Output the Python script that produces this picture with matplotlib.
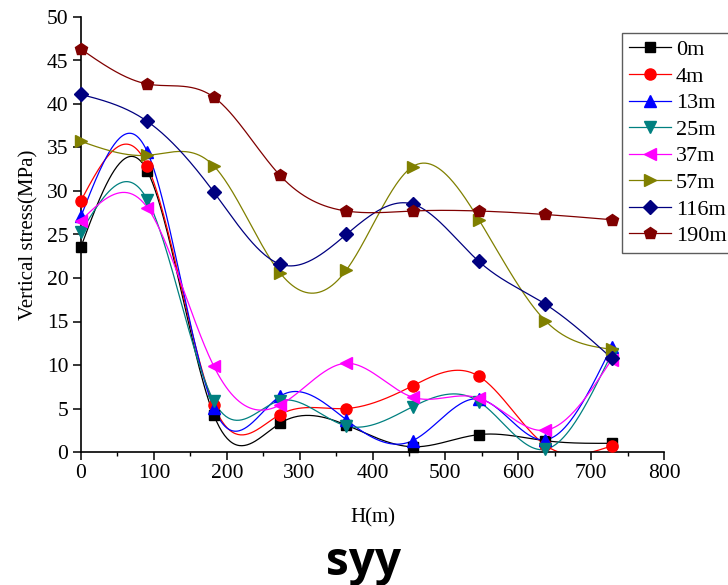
import numpy as np
import matplotlib
matplotlib.use("Agg")
import matplotlib.pyplot as plt
from matplotlib.lines import Line2D

# ---- data ----
H = [0, 91, 182, 273, 364, 455, 546, 637, 728]
labels = ["0m", "4m", "13m", "25m", "37m", "57m", "116m", "190m"]
s_0m   = [23.6, 32.3, 4.3, 3.3, 3.1, 0.6, 2.0, 1.3, 1.0]
s_4m   = [28.9, 32.9, 5.4, 4.3, 5.0, 7.6, 8.7, 0.8, 0.7]
s_13m  = [27.1, 34.5, 5.1, 6.4, 3.7, 1.3, 6.1, 1.4, 12.1]
s_25m  = [25.3, 29.0, 5.9, 5.9, 3.0, 5.2, 5.8, 0.3, 11.3]
s_37m  = [26.6, 28.1, 9.9, 5.4, 10.2, 6.3, 6.2, 2.5, 10.6]
s_57m  = [35.7, 34.1, 32.9, 20.6, 20.9, 32.8, 26.7, 15.1, 11.8]
s_116m = [41.1, 38.0, 29.9, 21.6, 25.0, 28.5, 21.9, 17.0, 10.8]
s_190m = [46.3, 42.3, 40.8, 31.8, 27.7, 27.7, 27.7, 27.3, 26.7]
series = [s_0m, s_4m, s_13m, s_25m, s_37m, s_57m, s_116m, s_190m]

colors = ["#000000", "#FF0000", "#0000FF", "#008080", "#FF00FF", "#808000", "#000080", "#800000"]
markers = ["s", "o", "^", "v", "<", ">", "D", "p"]
msizes = [7, 8, 8.5, 8.5, 8.5, 8.5, 7, 9]


def natural_spline(x, y, n=400):
    x = np.asarray(x, float)
    y = np.asarray(y, float)
    k = len(x)
    h = np.diff(x)
    A = np.zeros((k, k))
    b = np.zeros(k)
    A[0, 0] = 1
    A[-1, -1] = 1
    for i in range(1, k - 1):
        A[i, i - 1] = h[i - 1]
        A[i, i] = 2 * (h[i - 1] + h[i])
        A[i, i + 1] = h[i]
        b[i] = 3 * ((y[i + 1] - y[i]) / h[i] - (y[i] - y[i - 1]) / h[i - 1])
    c = np.linalg.solve(A, b)
    xs = np.linspace(x[0], x[-1], n)
    ys = np.empty_like(xs)
    for j, xv in enumerate(xs):
        i = min(np.searchsorted(x, xv, side="right") - 1, k - 2)
        dx = xv - x[i]
        bi = (y[i + 1] - y[i]) / h[i] - h[i] * (2 * c[i] + c[i + 1]) / 3
        di = (c[i + 1] - c[i]) / (3 * h[i])
        ys[j] = y[i] + bi * dx + c[i] * dx ** 2 + di * dx ** 3
    return xs, ys


plt.rcParams["font.family"] = ["Liberation Serif", "DejaVu Serif"]
plt.rcParams["font.size"] = 15

fig = plt.figure(figsize=(7.28, 5.85), dpi=100)
ax = fig.add_axes([81 / 728, 1 - 452 / 585, (664 - 81) / 728, (452 - 17) / 585])

handles = []
for vals, lab, col, mk, ms in zip(series, labels, colors, markers, msizes):
    xs, ys = natural_spline(H, vals)
    ax.plot(xs, ys, color=col, lw=0.9, zorder=2)
    ax.plot(H, vals, linestyle="none", marker=mk, color=col, ms=ms,
            clip_on=False, zorder=3)
    handles.append(Line2D([], [], color=col, lw=0.9, marker=mk, ms=ms))

ax.set_xlim(0, 800)
ax.set_ylim(0, 50)
ax.set_xticks(np.arange(0, 801, 100))
ax.set_xticks(np.arange(50, 800, 100), minor=True)
ax.set_yticks(np.arange(0, 51, 5))
for side in ["top", "right"]:
    ax.spines[side].set_visible(False)
for side in ["left", "bottom"]:
    ax.spines[side].set_linewidth(1.2)
ax.tick_params(axis="both", which="major", direction="out", length=6, width=1.1,
               labelsize=15.5, pad=3)
ax.tick_params(axis="x", which="minor", direction="out", length=3, width=1.0)

ax.set_xlabel("H(m)", fontsize=15, labelpad=18)
ax.set_ylabel("Vertical stress(MPa)", fontsize=15, labelpad=6)

leg = fig.legend(handles, labels, loc="upper left",
                 bbox_to_anchor=(622 / 728, 1 - 33 / 585),
                 fontsize=16, frameon=True, fancybox=False, edgecolor="#333333",
                 handlelength=1.9, handletextpad=0.22, labelspacing=0.27,
                 borderpad=0.3, borderaxespad=0)
leg.get_frame().set_linewidth(1.0)

fig.text(0.5, 1 - 563 / 585, "syy", ha="center", va="center",
         fontsize=33, fontweight="bold", family=["Open Sans", "DejaVu Sans"])

fig.savefig("out.png", dpi=100)
